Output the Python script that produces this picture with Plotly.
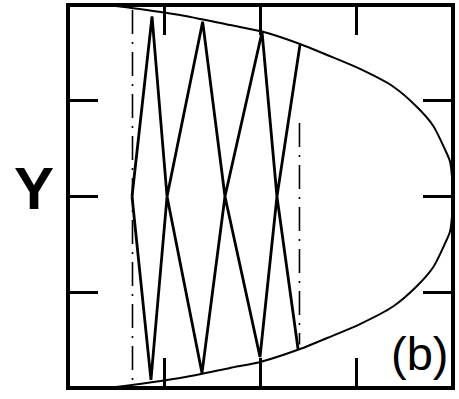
import plotly.graph_objects as go

# Outer boundary curve: half-width of the allowed region versus X
boundary_x = [0.0, 0.540, 0.852, 1.164, 1.683, 2.016, 2.410, 2.691, 3.034,
              3.377, 3.626, 3.792, 3.917, 3.969, 3.99, 4.0]
boundary_half = [2.04, 1.984, 1.943, 1.896, 1.791, 1.723, 1.593, 1.478, 1.332,
                 1.149, 0.935, 0.742, 0.49, 0.366, 0.2, 0.0]

# Orbit: upper and lower zig-zag branches (turning points and crossings)
upper_x = [0.665, 0.873, 1.029, 1.399, 1.631, 2.016, 2.171, 2.410]
upper_y = [0.0, 1.880, 0.0, 1.826, 0.0, 1.718, 0.0, 1.582]
lower_x = [0.665, 0.862, 1.029, 1.392, 1.631, 1.995, 2.171, 2.390]
lower_y = [0.0, -1.916, 0.0, -1.843, 0.0, -1.676, 0.0, -1.593]

# Dash-dot reference lines (x position, y start, y end)
ref_left = (0.670, 1.948, -1.969)
ref_right = (2.405, 0.768, -1.546)

x_ticks = [1, 2, 3]
y_ticks = [-1, 0, 1]

ink = "#000000"

# closed outline: along the top, then back along the bottom
outline_x = boundary_x + boundary_x[-2::-1]
outline_y = boundary_half + [-h for h in boundary_half[-2::-1]]

fig = go.Figure()
fig.add_trace(go.Scatter(x=outline_x, y=outline_y, mode="lines",
                         line=dict(color=ink, width=2, shape="spline", smoothing=0.8),
                         hoverinfo="skip"))
fig.add_trace(go.Scatter(x=upper_x, y=upper_y, mode="lines",
                         line=dict(color=ink, width=2.8), hoverinfo="skip"))
fig.add_trace(go.Scatter(x=lower_x, y=lower_y, mode="lines",
                         line=dict(color=ink, width=2.8), hoverinfo="skip"))
for xr, y0, y1 in (ref_left, ref_right):
    fig.add_trace(go.Scatter(x=[xr, xr], y=[y0, y1], mode="lines",
                             line=dict(color=ink, width=1.6, dash="24px,8px,2px,8px"),
                             hoverinfo="skip"))

axis_common = dict(showgrid=False, zeroline=False, showline=False,
                   ticks="inside", ticklen=30, tickwidth=3, tickcolor=ink,
                   mirror="ticks", showticklabels=False)

fig.update_layout(
    width=459, height=399,
    margin=dict(l=68, r=6, t=5, b=11),
    paper_bgcolor="white", plot_bgcolor="white",
    showlegend=False,
    xaxis=dict(range=[0, 4], tickvals=x_ticks, **axis_common),
    yaxis=dict(range=[-2, 2], tickvals=y_ticks, **axis_common),
    shapes=[dict(type="rect", xref="paper", yref="paper", x0=0, x1=1, y0=0, y1=1,
                 line=dict(color=ink, width=4), layer="above")],
    annotations=[
        dict(text="<b>Y</b>", xref="paper", yref="paper", x=-0.088, y=0.52,
             xanchor="center", yanchor="middle", showarrow=False,
             font=dict(family="Liberation Sans, Arial, sans-serif", size=60, color=ink)),
        dict(text="(b)", xref="paper", yref="paper", x=0.912, y=0.09,
             xanchor="center", yanchor="middle", showarrow=False,
             font=dict(family="Liberation Sans, Arial, sans-serif", size=47, color=ink)),
    ],
)

fig.write_html("out.html")
